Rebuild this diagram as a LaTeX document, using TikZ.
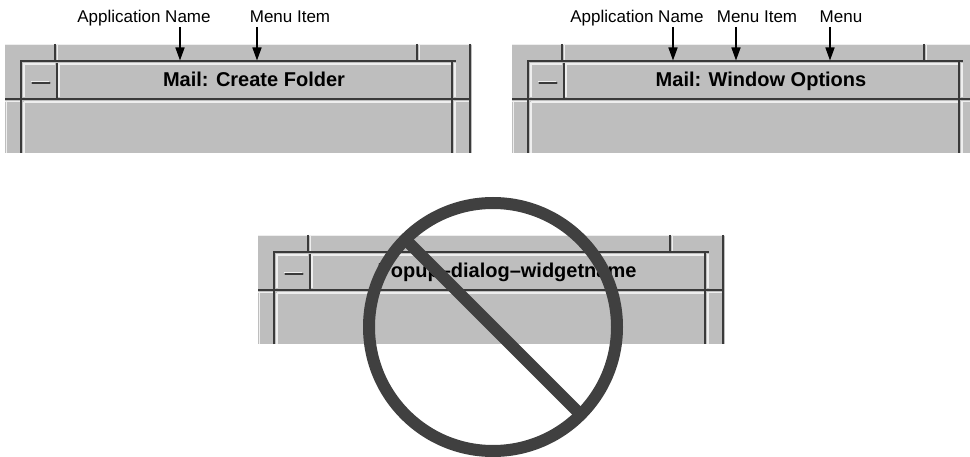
\documentclass[tikz,border=0pt]{standalone}
\usepackage{fontspec}
\setmainfont{Liberation Sans}
\usetikzlibrary{arrows.meta}
\definecolor{wgray}{HTML}{BEBEBE}
\definecolor{wdark}{HTML}{3A3A3A}
\definecolor{wlight}{HTML}{EEEEEE}
\definecolor{signc}{HTML}{404040}
\tikzset{
  dk/.style={draw=wdark,line width=2.5pt},
  lt/.style={draw=wlight,line width=1.6pt},
  lbl/.style={anchor=base,inner sep=0pt,font=\fontsize{17}{20}\selectfont},
  ttl/.style={anchor=base,inner sep=0pt,font=\bfseries\fontsize{20}{24}\selectfont},
  callout/.style={draw=black,line width=1.5pt,-{Triangle[length=13pt,width=9pt]}},
  sign/.style={draw=signc,line width=12pt}
}
\newcommand\mywin[4]{%
\begin{scope}[shift={(#1,#2)}]
  \fill[wgray] (5,44) rectangle (472,153);
  \draw[lt] (5,44.5) -- (472,44.5);
  \draw[dk,line width=2pt] (55,44) -- (55,60);
  \draw[lt] (57.5,44) -- (57.5,60);
  \draw[dk,line width=2pt] (417,44) -- (417,60);
  \draw[lt] (419.5,44) -- (419.5,60);
  \draw[dk] (470,44) -- (470,153);
  \draw[lt] (455,63) -- (455,97);
  \draw[lt] (455,101) -- (455,153);
  \draw[lt] (24,97) -- (24,64) -- (55,64);
  \draw[dk,line width=2pt] (56.5,63) -- (56.5,98);
  \draw[lt] (59,97) -- (59,64) -- (450.5,64);
  \draw[dk,line width=2pt] (452,62.5) -- (452,98);
  \draw[dk] (21,153) -- (21,61) -- (456,61);
  \draw[dk] (5,98.8) -- (470,98.8);
  \draw[lt] (5,101.5) -- (19.5,101.5);
  \draw[lt] (6.5,101) -- (6.5,153);
  \draw[lt] (23.5,102) -- (450.5,102);
  \draw[lt] (24,102) -- (24,153);
  \draw[dk,line width=2pt] (452,100) -- (452,153);
  \draw[lt] (456,101.5) -- (468.5,101.5);
  \draw[lt] (31,81.5) -- (49,81.5);
  \draw[dk,line width=2.5pt,line cap=round] (32.5,83.2) -- (49.5,83.2);
  \node[ttl] (#3) at (254,87) {#4};
\end{scope}}
\begin{document}
\begin{tikzpicture}[x=1pt,y=-1pt]
\useasboundingbox (0,0) rectangle (970,457);
\fill[white] (0,0) rectangle (970,457);
\begin{scope}
\clip (0,0) rectangle (970,457);
\mywin{0}{0}{t1}{Mail: Create Folder}
\mywin{507}{0}{t2}{Mail: Window Options}
\mywin{253}{191}{t3}{Popup–dialog–widgetname}
\end{scope}
% labels
\node[lbl] (l1a) at (144,22.5) {Application Name};
\node[lbl] (l1b) at (290,22.5) {Menu Item};
\node[lbl] (l2a) at (637,22.5) {Application Name};
\node[lbl] (l2b) at (757,22.5) {Menu Item};
\node[lbl] (l2c) at (841,22.5) {Menu};
% arrows
\coordinate (s1) at (180,27); \coordinate (e1) at (180,60.5);
\coordinate (s2) at (257,27); \coordinate (e2) at (257,60.5);
\coordinate (s3) at (673,27); \coordinate (e3) at (673,60.5);
\coordinate (s4) at (736,27); \coordinate (e4) at (736,60.5);
\coordinate (s5) at (830,27); \coordinate (e5) at (830,60.5);
\draw[callout] (s1) -- (e1);
\draw[callout] (s2) -- (e2);
\draw[callout] (s3) -- (e3);
\draw[callout] (s4) -- (e4);
\draw[callout] (s5) -- (e5);
% prohibition sign
\coordinate (cc) at (493,327);
\coordinate (d1) at (405.3,239.3);
\coordinate (d2) at (580.7,414.7);
\draw[sign] (cc) circle[radius=124pt];
\draw[sign] (d1) -- (d2);
\end{tikzpicture}
\end{document}
